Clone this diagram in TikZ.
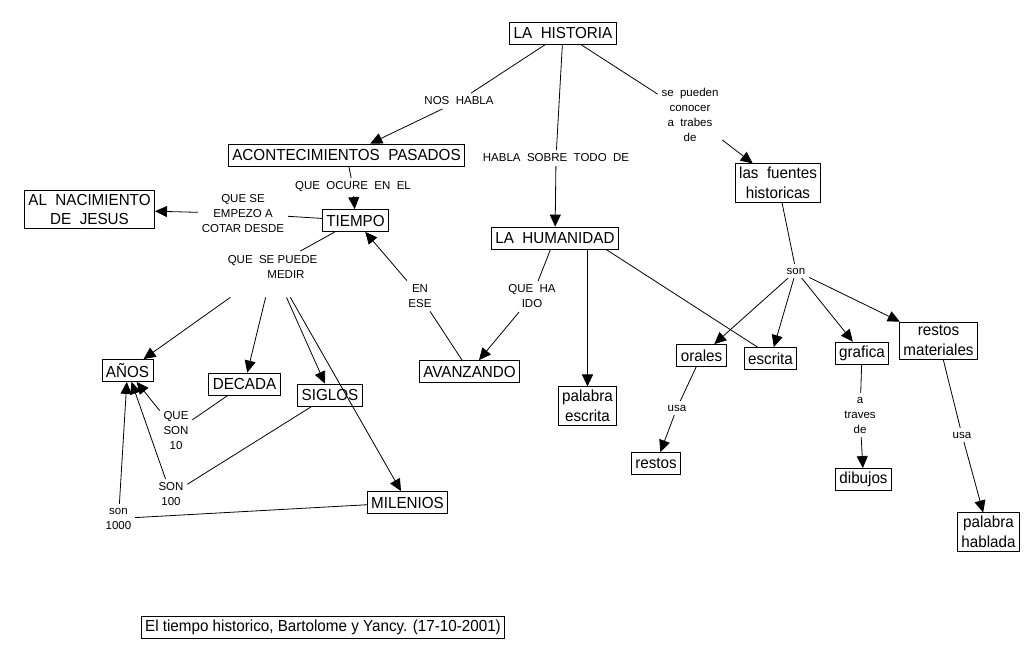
\documentclass[tikz,border=0pt]{standalone}
\usepackage{fontspec}
\setmainfont{Liberation Sans}
\newfontfamily\cmapfont{Liberation Sans}[FakeStretch=0.95]
\usetikzlibrary{arrows.meta}
\newcommand\cfont{\cmapfont\fontsize{16}{19.5}\selectfont}
\newcommand\lfont{\fontsize{11.5}{15}\selectfont}
\begin{document}
\begin{tikzpicture}[x=1pt,y=-1pt, line width=0.8pt,
  concept/.style={draw, font=\cfont, align=center, inner xsep=4pt, inner ysep=3.5pt, minimum height=22pt},
  lbl/.style={font=\lfont, align=center, inner sep=3.5pt},
  arr/.style={-{Triangle[length=12pt,width=11pt]}},
]
\fill[white] (0,0) rectangle (1036,665);
\useasboundingbox (0,0) rectangle (1036,665);

% concepts
\node[concept] (hist) at (563,33) {LA~~HISTORIA};
\node[concept] (acon) at (346.5,155) {ACONTECIMIENTOS~~PASADOS};
\node[concept] (naci) at (89.5,209.5) {AL~~NACIMIENTO\\DE~~JESUS};
\node[concept] (tiem) at (355.5,220.5) {TIEMPO};
\node[concept] (huma) at (555,238) {LA~~HUMANIDAD};
\node[concept] (fuen) at (778,183) {las~~fuentes\\historicas};
\node[concept] (anos) at (127.5,370.5) {AÑOS};
\node[concept] (deca) at (244.5,384) {DECADA};
\node[concept] (sigl) at (330,395) {SIGLOS};
\node[concept] (mile) at (407.5,502.5) {MILENIOS};
\node[concept] (avan) at (469.5,371.5) {AVANZANDO};
\node[concept] (pesc) at (587.5,406) {palabra\\escrita};
\node[concept] (oral) at (701.5,355.5) {orales};
\node[concept] (escr) at (770.5,358.5) {escrita};
\node[concept] (graf) at (862,353) {grafica};
\node[concept] (rmat) at (938.5,340.5) {restos\\materiales};
\node[concept] (rest) at (656,463.5) {restos};
\node[concept] (dibu) at (863.5,479.5) {dibujos};
\node[concept] (phab) at (988.5,532) {palabra\\hablada};
\node[concept] (capt) at (323,627.5) {El tiempo historico, Bartolome y Yancy. (17-10-2001)};

% linking phrases
\node[lbl] (l1) at (459,101) {NOS~~HABLA};
\node[lbl] (l2) at (556,158) {HABLA~~SOBRE~~TODO~~DE};
\node[lbl] (l3) at (690,115) {se~~pueden\\conocer\\a~~trabes\\de};
\node[lbl] (l4) at (353,187) {QUE~~OCURE~~EN~~EL};
\node[lbl] (l5) at (243,213.5) {QUE SE\\EMPEZO A\\COTAR DESDE};
\node[lbl] (l6) at (272.5,266.5) {QUE~~SE PUEDE\\\hspace*{27pt}MEDIR};
\node[minimum width=100pt, minimum height=60pt, inner sep=0pt] (l6b) at (273,267) {};
\node[lbl] (l7) at (420,296) {EN\\ESE};
\node[lbl] (l8) at (532,296.5) {QUE~~HA\\IDO};
\node[lbl] (l9) at (176,431) {QUE\\SON\\10};
\node[lbl] (l10) at (171,494.5) {SON\\100};
\node[lbl] (l11) at (118.5,518.5) {son\\1000};
\node[lbl] (l12) at (796,271) {son};
\node[lbl] (l13) at (677,408) {usa};
\node[lbl] (l14) at (860,415) {a\\traves\\de};
\node[lbl] (l15) at (962,435) {usa};

% connectors
\draw (hist) -- (l1); \draw[arr] (l1) -- (acon);
\draw (hist) -- (l2); \draw[arr] (l2) -- (huma);
\draw (hist) -- (l3); \draw[arr] (l3) -- (fuen);
\draw (acon) -- (l4); \draw[arr] (l4) -- (tiem);
\draw (tiem) -- (l5); \draw[arr] (l5) -- (naci);
\draw (tiem) -- (l6);
\draw[arr] (l6b) -- (anos);
\draw[arr] (l6b) -- (deca);
\draw[arr] (l6b) -- (sigl);
\draw[arr] (l6b) -- (mile);
\draw (avan) -- (l7); \draw[arr] (l7) -- (tiem);
\draw (huma) -- (l8); \draw[arr] (l8) -- (avan);
\draw[arr] (huma.south -| pesc) -- (pesc);
\draw ([xshift=51pt]huma.south) -- ([xshift=-13pt]escr.north);
\draw (fuen) -- (l12);
\draw[arr] (l12) -- (oral);
\draw[arr] (l12) -- (escr);
\draw[arr] (l12) -- (graf);
\draw[arr] (l12) -- (rmat);
\draw (oral) -- (l13); \draw[arr] (l13) -- (rest);
\draw (graf) -- (l14); \draw[arr] (l14) -- (dibu);
\draw (rmat) -- (l15); \draw[arr] (l15) -- (phab);
\draw (deca) -- (l9); \draw[arr] (l9) -- (anos);
\draw (sigl) -- (l10); \draw[arr] (l10) -- (anos);
\draw (mile) -- (l11); \draw[arr] (l11) -- (anos);
\end{tikzpicture}
\end{document}
